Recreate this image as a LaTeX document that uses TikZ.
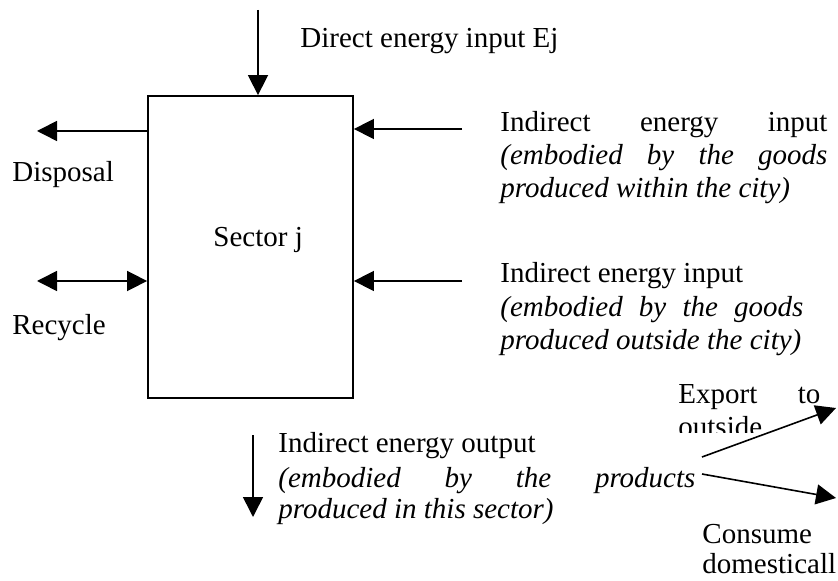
\documentclass[tikz,border=0pt]{standalone}
\usepackage{fontspec}
\setmainfont{Liberation Serif}
\usetikzlibrary{arrows.meta}
\begin{document}
\begin{tikzpicture}[x=0.5pt,y=-0.5pt,
  txt/.style={inner sep=0pt, anchor=base west, font=\fontsize{14.5}{17}\selectfont},
  arr/.style={line width=0.8pt, -{Triangle[length=10pt,width=10pt]}},
  darr/.style={line width=0.8pt, {Triangle[length=10pt,width=10pt]}-{Triangle[length=10pt,width=10pt]}},
  sectorbox/.style={draw, line width=0.9pt, minimum width=102.5pt, minimum height=151pt, inner sep=0pt}]
\useasboundingbox (0,0) rectangle (838,581);
% box
\node (box) [sectorbox] at (250.5,247) {};
\node (sector) [txt] at (213,247) {Sector j};
% top input
\coordinate (topS) at (258,10);
\draw[arr] (topS) -- (topS |- box.north);
\node (direct) [txt] at (300,48) {Direct energy input Ej};
% left
\coordinate (dispE) at (37,131);
\draw[arr] (dispE -| box.west) -- (dispE);
\node (disp) [txt] at (12,182) {Disposal};
\coordinate (recE) at (37,281);
\draw[darr] (recE) -- (recE -| box.west);
\node (rec) [txt] at (12,335) {Recycle};
% right inputs
\coordinate (in1) at (462,129);
\draw[arr] (in1) -- (in1 -| box.east);
\coordinate (in2) at (462,281);
\draw[arr] (in2) -- (in2 -| box.east);
\node (a1) [txt] at (500,132) {\makebox[163.5pt][s]{Indirect energy input}};
\node (a2) [txt] at (500,165) {\makebox[163.5pt][s]{\itshape (embodied by the goods}};
\node (a3) [txt] at (500,198) {\itshape produced within the city)};
\node (b1) [txt] at (500,283) {Indirect energy input};
\node (b2) [txt] at (500,317) {\makebox[151.5pt][s]{\itshape (embodied by the goods}};
\node (b3) [txt] at (500,350) {\itshape produced outside the city)};
% output
\coordinate (outS) at (253,435);
\coordinate (outE) at (253,517);
\draw[arr] (outS) -- (outE);
\node (c1) [txt] at (278,452) {Indirect energy output};
\node (c2) [txt] at (278,487) {\makebox[208.5pt][s]{\itshape (embodied by the products}};
\node (c3) [txt] at (278,518) {\itshape produced in this sector)};
% split
\coordinate (s1) at (702,457);
\coordinate (e1) at (836,408);
\draw[arr] (s1) -- (e1);
\coordinate (s2) at (702,474);
\coordinate (e2) at (836,498);
\draw[arr] (s2) -- (e2);
\node (exp) [txt] at (678,403) {\makebox[71pt][s]{Export to}};
\begin{scope}
\clip (600,380) rectangle (838,432);
\node (outside) [txt] at (678,437) {outside};
\end{scope}
\node (cons) [txt] at (702,543) {Consume};
\node (dom) [txt] at (702,573) {domesticall};
\end{tikzpicture}
\end{document}
